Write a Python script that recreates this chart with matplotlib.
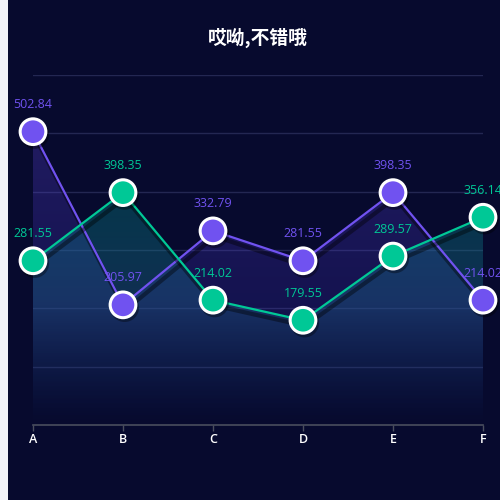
import matplotlib
matplotlib.use("Agg")
import matplotlib.pyplot as plt
import numpy as np
from matplotlib.patches import Rectangle, Polygon
from matplotlib import patheffects as pe

plt.rcParams['font.family'] = ['Noto Sans CJK SC', 'DejaVu Sans']

categories = ['A', 'B', 'C', 'D', 'E', 'F']
purple_values = [502.84, 205.97, 332.79, 281.55, 398.35, 214.02]
green_values = [281.55, 398.35, 214.02, 179.55, 289.57, 356.14]
title = '哎呦,不错哦'

BG = '#070a2e'
PURPLE = '#7052f0'
GREEN = '#00c896'

fig = plt.figure(figsize=(5, 5), dpi=100, facecolor='#f2f3f8')
fig.patches.append(Rectangle((8 / 500, 0), 1 - 8 / 500, 1, transform=fig.transFigure,
                             facecolor=BG, edgecolor='none', zorder=-10))

ax = fig.add_axes([33 / 500, 75 / 500, 450 / 500, 350 / 500])
ax.set_facecolor('none')
x = np.arange(len(categories))
ax.set_xlim(0, len(categories) - 1)
ax.set_ylim(0, 600)


def gradient_fill(vals, stops, z):
    n = 256
    fr = np.linspace(0, 1, n)
    img = np.zeros((n, 1, 4))
    fs = [s[0] for s in stops]
    for c in range(4):
        img[:, 0, c] = np.interp(fr, fs, [s[1][c] for s in stops])
    im = ax.imshow(img[::-1], extent=[0, len(vals) - 1, 0, 600], aspect='auto',
                   origin='upper', zorder=z, interpolation='bilinear')
    verts = [(0, 0)] + list(zip(x, vals)) + [(len(vals) - 1, 0)]
    poly = Polygon(verts, closed=True, facecolor='none', edgecolor='none',
                   transform=ax.transData)
    ax.add_patch(poly)
    im.set_clip_path(poly)


gradient_fill(purple_values, [(0.0, (0.10, 0.12, 0.45, 0.0)),
                              (0.35, (0.30, 0.22, 0.85, 0.20)),
                              (1.0, (0.44, 0.32, 0.94, 0.30))], 1)
gradient_fill(green_values, [(0.0, (0.10, 0.25, 0.45, 0.0)),
                             (0.35, (0.12, 0.38, 0.52, 0.42)),
                             (0.7, (0.0, 0.62, 0.55, 0.30)),
                             (1.0, (0.0, 0.72, 0.58, 0.33))], 2)

for yv in range(100, 601, 100):
    ax.axhline(yv, color='#232752', lw=1, zorder=0.5)

shadow = [pe.SimpleLineShadow(offset=(1.5, -4), shadow_color='black', alpha=0.4, linewidth=3),
          pe.Normal()]
for vals, col, z in [(purple_values, PURPLE, 4), (green_values, GREEN, 5)]:
    ax.plot(x, vals, color=col, lw=1.6, zorder=z, path_effects=shadow, clip_on=False)
    ax.plot(x, vals, linestyle='none', marker='o', markersize=18.5,
            markerfacecolor=col, markeredgecolor='white', markeredgewidth=2.2,
            zorder=z + 3, clip_on=False,
            path_effects=[pe.SimpleLineShadow(offset=(1.2, -2), shadow_color='black', alpha=0.35),
                          pe.Normal()])
    for xi, v in zip(x, vals):
        ax.annotate(f'{v:.2f}', (xi, v), xytext=(0, 19.5), textcoords='offset points',
                    ha='center', va='center', color=col, fontsize=9, zorder=10,
                    family=['Open Sans', 'DejaVu Sans'], annotation_clip=False)

for s in ['top', 'right', 'left']:
    ax.spines[s].set_visible(False)
ax.spines['bottom'].set_color('#4a4e5e')
ax.spines['bottom'].set_linewidth(1.2)
ax.set_yticks([])
ax.set_xticks(x)
ax.set_xticklabels(categories, family=['Open Sans', 'DejaVu Sans'], fontweight='semibold')
ax.tick_params(axis='x', colors='#4a4e5e', length=4, width=1, labelcolor='white',
               labelsize=9, pad=2)

fig.text(258 / 500, 1 - 38 / 500, title, color='white', fontsize=13.5, fontweight='bold',
         ha='center', va='center')

fig.savefig('out.png', dpi=100, facecolor=fig.get_facecolor())
